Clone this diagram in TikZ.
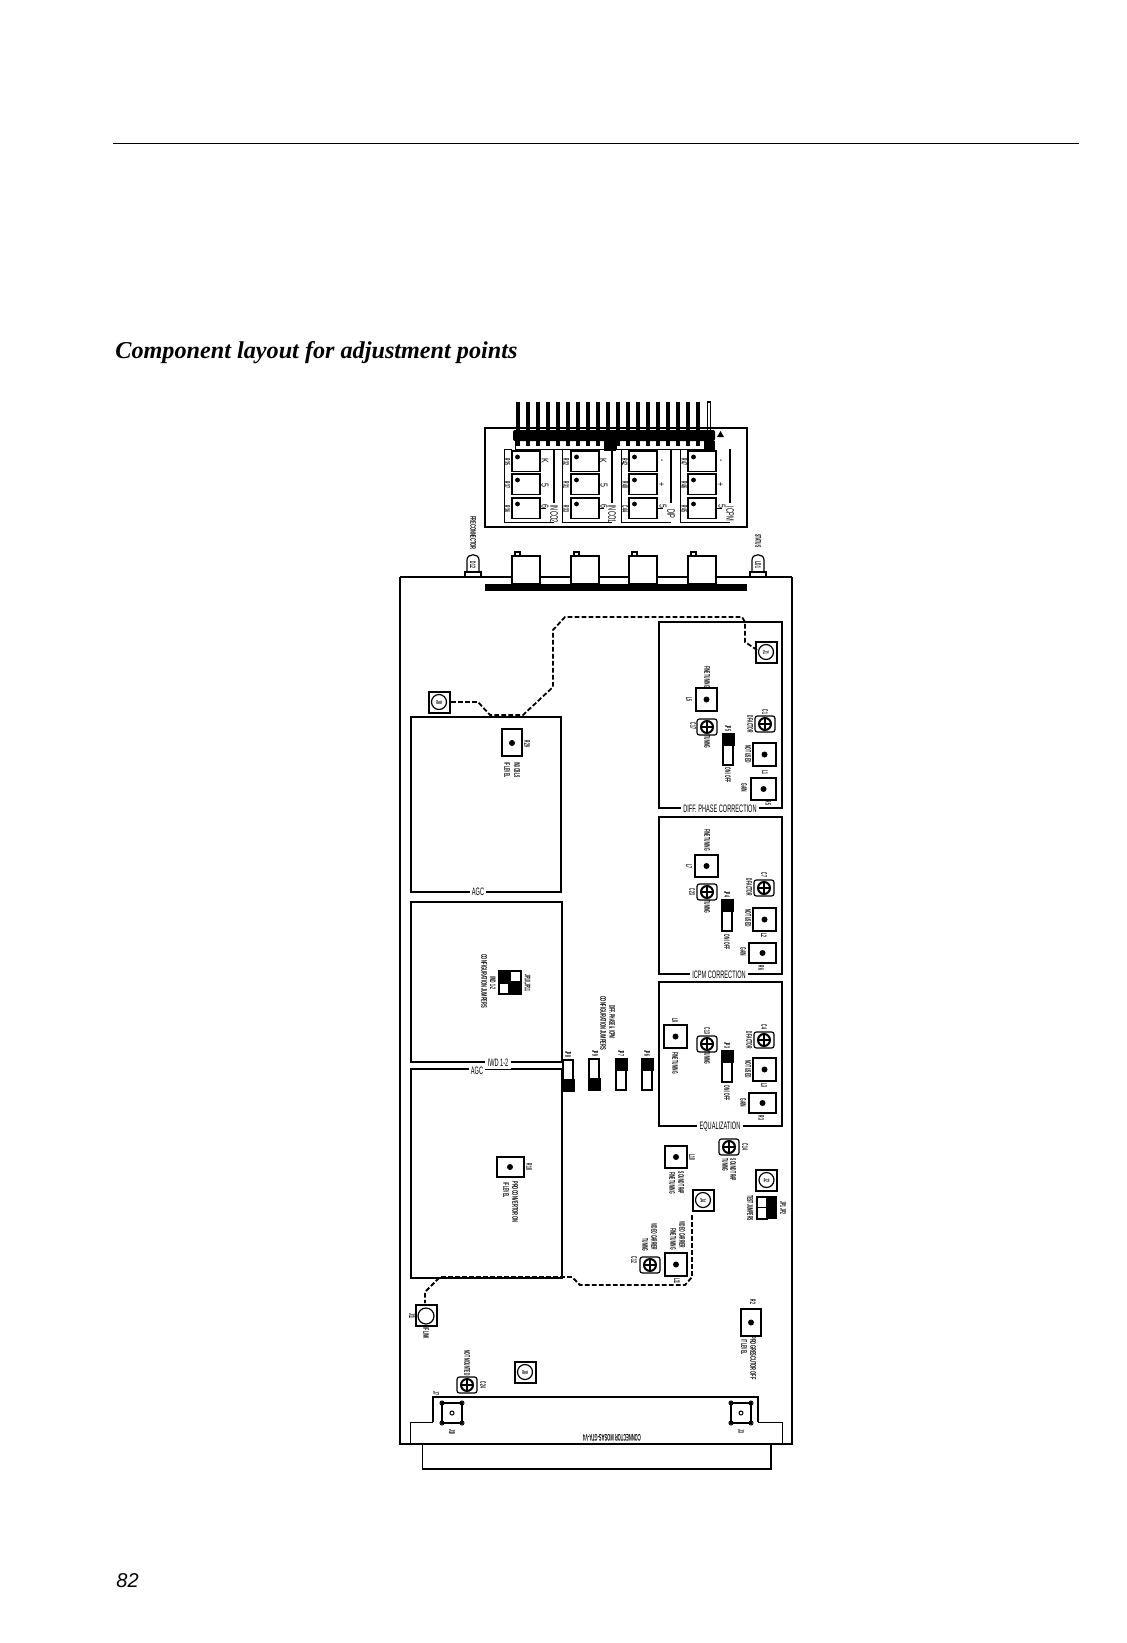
\documentclass[tikz,border=0pt]{standalone}
\usepackage{fontspec}
\usepackage{graphicx}
\setmainfont{Liberation Serif}
\setsansfont{Liberation Sans}
\usetikzlibrary{calc}
\tikzset{
  labl/.style={shape=rectangle,draw=none,inner sep=0pt,font=\sffamily\bfseries\fontsize{4}{5}\selectfont},
  lablsym/.style={shape=rectangle,draw=none,inner sep=0pt,font=\sffamily\fontsize{5}{6}\selectfont},
  lablcol/.style={shape=rectangle,draw=none,inner sep=0pt,font=\sffamily\fontsize{5.4}{6}\selectfont},
  lablbig/.style={shape=rectangle,fill=white,inner sep=1.2pt,font=\sffamily\fontsize{5.4}{6}\selectfont},
  cmpline/.style={line width=0.6pt},
  heavyline/.style={line width=1pt},
  wireline/.style={line width=0.9pt,dash pattern=on 2.4pt off 1.1pt}
}
% labels
\newcommand{\vlabl}[4]{\node[labl,rotate=-90] (#1) at ( #2 , #3 ) {\scalebox{0.42}[1]{#4}};}
\newcommand{\vlablw}[4]{\node[labl,rotate=-90] (#1) at ( #2 , #3 ) {\scalebox{0.5}[1]{#4}};}
\newcommand{\vsym}[4]{\node[lablsym,rotate=-90] (#1) at ( #2 , #3 ) {\scalebox{0.7}[1]{#4}};}
\newcommand{\vcol}[4]{\node[lablcol,rotate=-90] (#1) at ( #2 , #3 ) {\scalebox{0.52}[1]{#4}};}
\newcommand{\hlabl}[4]{\node[lablbig] (#1) at ( #2 , #3 ) {\scalebox{0.52}[1]{#4}};}
% parts
\newcommand{\pot}[4]{ \draw[cmpline] ( #1 , #2 ) rectangle ( #3 , #4 ); \fill ( #1 * 0.5 + #3 * 0.5 , #2 * 0.5 + #4 * 0.5 ) circle (3);}
\newcommand{\trim}[2]{ \draw[cmpline,rounded corners=1.2pt] ( #1 - 10 , #2 - 8 ) rectangle ( #1 + 10 , #2 + 8 ); \draw[heavyline] ( #1 , #2 ) circle (6); \draw[cmpline] ( #1 - 6 , #2 ) -- ( #1 + 6 , #2 ); \draw[cmpline] ( #1 , #2 - 6 ) -- ( #1 , #2 + 6 );}
\newcommand{\link}[5]{ \draw[heavyline] ( #1 - 10.5 , #2 - 10.5 ) rectangle ( #1 + 10.5 , #2 + 10.5 ); \draw[cmpline] ( #1 , #2 ) circle (7.5); \vlabl{#3}{#1}{#2}{#4}}
\newcommand{\jumpA}[2]{ \fill ( #1 - 6.5 , #2 ) rectangle ( #1 + 6.5 , #2 + 12.5 ); \draw[cmpline] ( #1 - 5 , #2 + 12.5 ) rectangle ( #1 + 5 , #2 + 32 );}
\newcommand{\jumpB}[2]{ \draw[cmpline] ( #1 - 5 , #2 ) rectangle ( #1 + 5 , #2 + 20 ); \fill ( #1 - 6.5 , #2 + 19 ) rectangle ( #1 + 6.5 , #2 + 32 );}
\newcommand{\pin}[1]{ \draw[line width=1.8pt] ( #1 , 402 ) -- ( #1 , 430 ); \draw[line width=1.8pt] ( #1 , 441 ) -- ( #1 , 445.5 );}
\newcommand{\bnc}[1]{ \draw[cmpline,fill=white] ( #1 , 556 ) rectangle ( #1 + 28 , 584 ); \draw[cmpline] ( #1 + 3 , 552 ) rectangle ( #1 + 8 , 556 );}
\newcommand{\led}[1]{ \draw[cmpline] ( #1 - 6 , 572 ) -- ( #1 - 6 , 560 ) .. controls ( #1 - 6 , 553 ) and ( #1 + 6 , 553 ) .. ( #1 + 6 , 560 ) -- ( #1 + 6 , 572 ); \draw[cmpline] ( #1 - 8 , 572 ) rectangle ( #1 + 8 , 576.5 );}
\newcommand{\sw}[2]{ \draw[cmpline] ( #1 , #2 ) rectangle ( #1 + 28 , #2 + 20.5 ); \fill ( #1 + 5.5 , #2 + 6 ) circle (2.4);}
\newcommand{\swframe}[2]{ \draw[line width=0.5pt] ( #1 + 8 , 449 ) -- ( #1 , 449 ) -- ( #1 , 522 ) -- ( #1 + 50 , 522 ); \draw[#2] ( #1 + 50 , 449 ) -- ( #1 + 50 , 503 ); \draw[line width=0.3pt] ( #1 + 36 , 508 ) -- ( #1 + 42 , 508 );}
\newcommand{\mnt}[2]{ \draw[line width=0.5pt] ( #1 , #2 ) circle (2);}

\begin{document}
\begin{tikzpicture}[x=0.5pt,y=-0.5pt]
        \useasboundingbox ( 0 , 0 ) rectangle ( 1127 , 1643 );
        % page
        \draw[cmpline] ( 113 , 143.5 ) -- ( 1079 , 143.5 );
        \node[font=\rmfamily\bfseries\itshape\fontsize{12.1}{14}\selectfont,anchor=base west,inner sep=0pt] (pagetitle) at ( 115 , 358 ) {Component layout for adjustment points};
        \node[font=\sffamily\itshape\fontsize{10}{12}\selectfont,anchor=base west,inner sep=0pt] (pagenum) at ( 116 , 1587 ) {82};

        % connector block
        \draw[cmpline] ( 485 , 428 ) rectangle ( 747 , 527 );
        \pin{518} \pin{528} \pin{538} \pin{548} \pin{558}
        \pin{568} \pin{578} \pin{588} \pin{598} \pin{608}
        \pin{618} \pin{628} \pin{638} \pin{648} \pin{658}
        \pin{668} \pin{678} \pin{688} \pin{698}
        \draw[cmpline] ( 707.5 , 430 ) -- ( 707.5 , 402 ) -- ( 710.5 , 402 ) -- ( 710.5 , 430 );
        \fill[rounded corners=1pt] ( 513 , 430 ) rectangle ( 715 , 441 );
        \fill ( 604 , 441 ) rectangle ( 616 , 451 );
        \fill ( 704 , 441 ) rectangle ( 715 , 451 );
        \draw[line width=0.3pt] ( 515 , 441 ) -- ( 515 , 449 ) -- ( 604 , 449 );
        \draw[line width=0.3pt] ( 616 , 441 ) -- ( 616 , 449 ) -- ( 704 , 449 );
        \fill ( 717 , 437 ) -- ( 720.5 , 431 ) -- ( 724 , 437 ) -- cycle;
        % switch column1
        \swframe{504}{cmpline}
        \sw{512}{451} \sw{512}{474} \sw{512}{498}
        \vlabl{sa1}{507}{462}{R35}
        \vlabl{sa2}{507}{485}{R37}
        \vlabl{sa3}{507}{509}{R36}
        \vsym{sb1}{545}{461}{K}
        \vsym{sb2}{545}{485}{5}
        \vsym{sb3}{545}{506}{6}
        \vcol{coma}{554}{514}{INCO2}
        % switch column2
        \swframe{562}{heavyline}
        \sw{571}{451} \sw{571}{474} \sw{571}{498}
        \vlabl{sc1}{566}{462}{R32}
        \vlabl{sc2}{566}{485}{R31}
        \vlabl{sc3}{566}{509}{R33}
        \vsym{sd1}{603}{461}{K}
        \vsym{sd2}{604}{485}{5}
        \vsym{sd3}{604}{506}{6}
        \vcol{comb}{612}{514}{INCO1}
        % switch column3
        \swframe{621}{cmpline}
        \sw{629}{451} \sw{629}{474} \sw{629}{498}
        \vlabl{se1}{625}{462}{R42}
        \vlabl{se2}{625}{485}{R40}
        \vlabl{se3}{625}{509}{C44}
        \vsym{sf1}{661}{461}{-}
        \vsym{sf2}{661}{485}{+}
        \vsym{sf3}{663}{506}{5}
        \vcol{comc}{671}{514}{DIP}
        % switch column4
        \swframe{680}{cmpline}
        \sw{688}{451} \sw{688}{474} \sw{688}{498}
        \vlabl{sg1}{684}{462}{R47}
        \vlabl{sg2}{684}{485}{R46}
        \vlabl{sg3}{684}{509}{R45}
        \vsym{sh1}{720}{461}{-}
        \vsym{sh2}{720}{485}{+}
        \vsym{sh3}{722}{506}{5}
        \vcol{comd}{730}{514}{ICPM}

        % board
        \draw[cmpline] ( 400 , 577 ) -- ( 792 , 577 );
        \draw[heavyline] ( 400 , 577 ) -- ( 400 , 1444 ) -- ( 792 , 1444 ) -- ( 792 , 577 );
        \bnc{512} \bnc{571} \bnc{629} \bnc{688}
        \fill ( 485 , 584 ) rectangle ( 747 , 591 );
        \led{473} \led{758}
        \vlabl{ledb}{473}{565}{D12}
        \vlabl{leda}{758}{565}{LD1}
        \vlablw{ledbtxt}{473}{533}{FRECONNECTOR}
        \vlabl{ledatxt}{758}{541}{STATUS}

        % agc top
        \draw[heavyline] ( 411 , 717 ) rectangle ( 561 , 892 );
        \hlabl{agca}{478}{892}{AGC}
        \link{439}{702}{ja}{J8}
        \vlabl{jatxt}{439}{679}{IF LINK}
        \draw[heavyline] ( 502 , 729 ) rectangle ( 522 , 756 );
        \fill ( 512 , 743 ) circle (3);
        \vlabl{rza}{527}{744}{R29}
        \vlabl{rzb}{517}{770}{IN3 CBLS}
        \vlabl{rzc}{507}{770}{IF LEVEL}

        % diff phase
        \draw[cmpline] ( 659 , 622 ) rectangle ( 782 , 808 );
        \hlabl{diffbox}{720}{809}{DIFF. PHASE CORRECTION}
        \link{766}{652}{jb}{J1}
        \vlabl{jbtxt}{766}{672}{IF LINK}
        \pot{696}{688}{717}{711}
        \vlabl{lfa}{707}{677}{FINE TUNING}
        \vlabl{lfb}{689}{699}{L5}
        \trim{707}{727}
        \vlabl{cqa}{693}{726}{C17}
        \vlabl{cqb}{707}{742}{TUNING}
        \jumpA{728}{733}
        \vlabl{jpa}{728}{728}{JP5}
        \vlabl{jpb}{728}{775}{ON / OFF}
        \trim{765}{724}
        \vlabl{caa}{750}{724}{D FACTOR}
        \vlabl{cab}{765}{712}{C1}
        \pot{753}{743}{776}{766}
        \vlabl{laa}{748}{754}{NOT USED}
        \vlabl{lab}{765}{772}{L1}
        \pot{751}{778}{776}{800}
        \vlabl{rga}{744}{788}{GAIN}
        \vlabl{rgb}{768}{803}{R5}

        % icpm
        \draw[cmpline] ( 659 , 817 ) rectangle ( 782 , 974 );
        \hlabl{icpmbox}{719}{975}{ICPM CORRECTION}
        \pot{695}{855}{718}{877}
        \vlabl{lga}{707}{840}{FINE TUNING}
        \vlabl{lgb}{689}{866}{L7}
        \trim{707}{892}
        \vlabl{cwa}{692}{892}{C23}
        \vlabl{cwb}{707}{907}{TUNING}
        \jumpA{727}{899}
        \vlabl{jqa}{727}{894}{JP4}
        \vlabl{jqb}{727}{942}{ON / OFF}
        \trim{764}{888}
        \vlabl{cea}{749}{887}{D FACTOR}
        \vlabl{ceb}{764}{875}{C7}
        \pot{753}{908}{776}{931}
        \vlabl{lha}{748}{918}{NOT USED}
        \vlabl{lhb}{764}{935}{L2}
        \pot{749}{943}{776}{963}
        \vlabl{rha}{743}{952}{GAIN}
        \vlabl{rhb}{761}{968}{R6}

        % equalization
        \draw[cmpline] ( 659 , 982 ) rectangle ( 782 , 1126 );
        \hlabl{eqbox}{720}{1127}{EQUALIZATION}
        \pot{664}{1025}{687}{1048}
        \vlabl{lja}{675}{1020}{L8}
        \vlabl{ljb}{675}{1063}{FINE TUNING}
        \trim{707}{1044}
        \vlabl{cra}{707}{1031}{C13}
        \vlabl{crb}{707}{1058}{TUNING}
        \jumpA{727}{1050}
        \vlabl{jra}{727}{1045}{JP3}
        \vlabl{jrb}{727}{1093}{ON / OFF}
        \trim{764}{1040}
        \vlabl{cta}{749}{1040}{D FACTOR}
        \vlabl{ctb}{764}{1027}{C4}
        \pot{753}{1058}{776}{1081}
        \vlabl{lka}{748}{1069}{NOT USED}
        \vlabl{lkb}{764}{1085}{L3}
        \pot{749}{1093}{776}{1113}
        \vlabl{rka}{743}{1103}{GAIN}
        \vlabl{rkb}{761}{1118}{R3}

        % iwd
        \draw[cmpline] ( 411 , 902 ) rectangle ( 562 , 1062 );
        \draw[heavyline] ( 411 , 1069 ) rectangle ( 562 , 1278 );
        \hlabl{iwdbox}{498}{1063}{IWD 1-2}
        \hlabl{agcb}{477}{1071}{AGC}
        \fill ( 498 , 970 ) rectangle ( 510 , 983 );
        \fill ( 509 , 982 ) rectangle ( 522 , 995 );
        \draw[cmpline] ( 510 , 971 ) rectangle ( 521 , 982 );
        \draw[cmpline] ( 499 , 983 ) rectangle ( 509 , 994 );
        \vlabl{jsa}{527}{983}{JP10,JP11}
        \vlabl{jsb}{493}{983}{IWD 1-2}
        \vlablw{jsc}{484}{981}{CONFIGURATION JUMPERS}

        % jumpers
        \vlabl{jta}{612}{1022}{DIFF. PHASE \& ICPM}
        \vlablw{jtb}{603}{1023}{CONFIGURATION JUMPERS}
        \jumpB{568}{1060}
        \jumpB{594}{1059}
        \jumpA{621}{1058}
        \jumpA{647}{1058}
        \vlabl{jua}{568}{1054}{JP8}
        \vlabl{jub}{595}{1053}{JP9}
        \vlabl{juc}{621}{1053}{JP7}
        \vlabl{jud}{647}{1053}{JP6}

        % agc bottom
        \draw[cmpline] ( 497 , 1157 ) rectangle ( 524 , 1177 );
        \fill ( 510 , 1167 ) circle (3);
        \vlabl{rma}{529}{1167}{R18}
        \vlablw{rmb}{515}{1202}{PROCONVERTOR ON}
        \vlabl{rmc}{506}{1190}{IF LEVEL}

        % sound trap
        \pot{665}{1146}{687}{1168}
        \vlabl{lma}{692}{1157}{L10}
        \vlabl{lmb}{681}{1183}{SOUND TRAP}
        \vlabl{lmc}{672}{1183}{FINE TUNING}
        \trim{729}{1147}
        \vlabl{cma}{745}{1147}{C14}
        \vlabl{cmb}{733}{1170}{SOUND TRAP}
        \vlabl{cmc}{725}{1165}{TUNING}
        \link{766.5}{1180}{jc}{J2}
        \vlabl{jctxt}{766}{1157}{TEST INPUT}
        \draw[cmpline] ( 757 , 1197 ) rectangle ( 767 , 1207.5 );
        \draw[cmpline] ( 757 , 1207.5 ) rectangle ( 767 , 1219 );
        \fill ( 767 , 1196 ) rectangle ( 777 , 1219 );
        \vlabl{jva}{750}{1208}{TEST JUMPERS}
        \vlabl{jvb}{783}{1208}{JP1 JP2}

        % video carrier
        \link{703}{1200}{jd}{J4}
        \vlabl{jdtxt}{703}{1220}{IF LINK}
        \pot{665}{1253}{687}{1276}
        \vlabl{lna}{682}{1235}{VIDEO CARRIER}
        \vlabl{lnb}{673}{1239}{FINE TUNING}
        \vlabl{lnc}{677}{1281}{L11}
        \trim{650}{1265}
        \vlabl{cna}{654}{1237}{VIDEO CARRIER}
        \vlabl{cnb}{645}{1245}{TUNING}
        \vlabl{cnc}{634}{1260}{C12}

        % wires
        \draw[wireline] ( 451 , 702 ) -- ( 478 , 702 ) -- ( 490 , 715 ) -- ( 523 , 715 ) -- ( 553 , 687 ) -- ( 553 , 630 ) -- ( 565 , 617 ) -- ( 742 , 617 ) -- ( 745 , 622 ) -- ( 745 , 642 ) -- ( 757 , 650 );
        \draw[wireline] ( 692 , 1215 ) -- ( 692 , 1277 ) -- ( 685 , 1285 ) -- ( 580 , 1285 ) -- ( 572 , 1277 ) -- ( 440 , 1277 ) -- ( 425 , 1292 ) -- ( 425 , 1303 );

        % lower board
        \draw[cmpline] ( 416 , 1305 ) rectangle ( 437 , 1326 );
        \draw[cmpline] ( 426 , 1316 ) circle (8);
        \vlabl{jxa}{412}{1316}{J11}
        \vlabl{jxb}{426}{1333}{IF LINK}
        \pot{741}{1309}{761}{1336}
        \vlabl{rna}{753}{1302}{R2}
        \vlablw{rnb}{753}{1358}{PROGRESCUTOR OFF}
        \vlabl{rnc}{744}{1347}{IT LEVEL}
        \link{525}{1372}{je}{J8}
        \vlabl{jetxt}{509}{1372}{IF MONITOR}
        \trim{467}{1385}
        \vlabl{cpa}{467}{1363}{NOT MOUNTED}
        \vlabl{cpb}{483}{1385}{C24}

        % connector
        \draw[heavyline] ( 433 , 1422 ) -- ( 433 , 1397 ) -- ( 758 , 1397 ) -- ( 758 , 1422 );
        \draw[line width=0.4pt] ( 433 , 1422 ) -- ( 410 , 1422 ) -- ( 410 , 1444 );
        \draw[line width=0.4pt] ( 758 , 1422 ) -- ( 782 , 1422 ) -- ( 782 , 1444 );
        \draw[cmpline] ( 442 , 1403 ) rectangle ( 462 , 1423 );
        \mnt{442}{1403} \mnt{462}{1403} \mnt{442}{1423} \mnt{462}{1423} \mnt{452}{1413}
        \draw[cmpline] ( 731 , 1403 ) rectangle ( 751 , 1423 );
        \mnt{731}{1403} \mnt{751}{1403} \mnt{731}{1423} \mnt{751}{1423} \mnt{741}{1413}
        \vlabl{jya}{452}{1432}{J10}
        \vlabl{jyb}{741}{1431}{J3}
        \vlabl{jyc}{436}{1393}{J7}
        \node[labl,rotate=180,font=\sffamily\bfseries\fontsize{4.8}{5}\selectfont] (connlabl) at ( 612 , 1438 ) {\scalebox{0.42}[1]{CONNECTOR MOSAS-GTA-V4}};

        % tab
        \draw[line width=0.3pt] ( 422 , 1444 ) -- ( 422 , 1469 );
        \draw[cmpline] ( 422 , 1469 ) -- ( 771 , 1469 ) -- ( 771 , 1444 );
\end{tikzpicture}
\end{document}
